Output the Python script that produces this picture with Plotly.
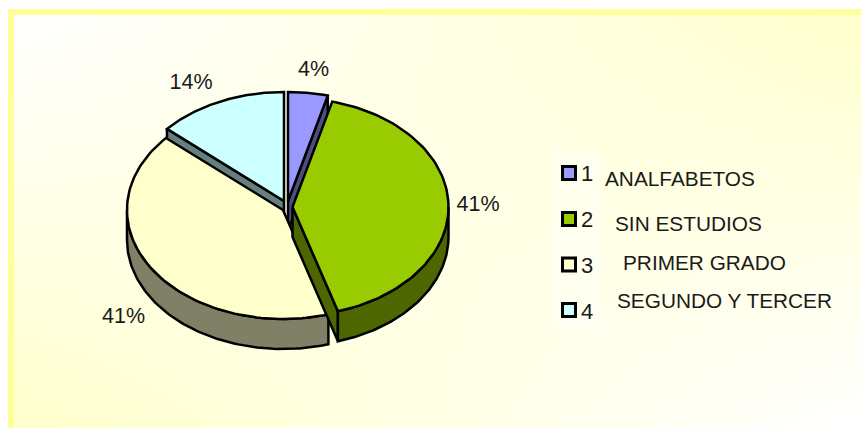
import numpy as np
import plotly.graph_objects as go

# ---- data ----
legend_numbers = ["1", "2", "3", "4"]
categories = ["ANALFABETOS", "SIN ESTUDIOS", "PRIMER GRADO", "SEGUNDO Y TERCER"]
values = [4.1, 41.2, 41.2, 13.5]

# ---- styles and layout ----
top_colors = ["#9999FF", "#99CC00", "#FFFFCC", "#CCFFFF"]
side_colors = ["#4D4D80", "#4D6600", "#808066", "#668080"]
apex_x = [288, 292.5, 283, 284]
apex_y = [201, 207, 210, 201]
RX, RY, DEPTH = 156, 109, 30
label_x = [313.5, 478, 123.5, 191]
label_y = [71, 206, 318, 84]
swatch_y = [173, 219, 264.5, 310]
number_y = [175, 221, 267, 313]
cat_x = [605, 615, 623, 617]
cat_y = [181, 226, 265, 303]
W, H = 861, 428
FONT = "Liberation Sans, Arial, sans-serif"
TEXT = "#1a1a1a"
LW = 2.5

edges = np.concatenate([[0], np.cumsum(values)]) / sum(values) * 2 * np.pi


def rim(i, a, b, dy=0.0, n=90):
    t = np.linspace(a, b, n)
    return apex_x[i] + RX * np.sin(t), apex_y[i] - RY * np.cos(t) + dy


def poly(xs, ys, color, lw=LW):
    return go.Scatter(x=list(xs) + [xs[0]], y=list(ys) + [ys[0]], mode="lines", fill="toself",
                      fillcolor=color, line=dict(color="black", width=lw), xaxis="x2", yaxis="y2",
                      hoverinfo="skip", showlegend=False)


def cut_face(i, angle):
    x, y = rim(i, angle, angle, n=1)
    ax, ay = apex_x[i], apex_y[i]
    return poly([ax, x[0], x[0], ax], [ay, y[0], y[0] + DEPTH, ay + DEPTH], side_colors[i])


def wall(i):
    a, b = max(edges[i], np.pi / 2), min(edges[i + 1], 3 * np.pi / 2)
    x1, y1 = rim(i, a, b)
    x2, y2 = rim(i, b, a, DEPTH)
    return poly(np.r_[x1, x2], np.r_[y1, y2], side_colors[i])


def top(i):
    x, y = rim(i, edges[i], edges[i + 1])
    return poly(np.r_[apex_x[i], x], np.r_[apex_y[i], y], top_colors[i])


fig = go.Figure()

# pale background: yellow toward the top-right and bottom-left corners
grid = np.linspace(0, 1, 21)
gx, gy = np.meshgrid(grid, grid)
fig.add_trace(go.Heatmap(x=grid, y=grid, z=gx * gy + (1 - gx) * (1 - gy), zmin=0, zmax=1, zsmooth="best",
                         colorscale=[[0, "#FFFFFF"], [1, "#FFFFCC"]], showscale=False, hoverinfo="skip"))

# whitish legend backing
fig.add_trace(go.Scatter(x=[553, 602, 602, 553, 553], y=[152, 152, 330, 330, 152], mode="lines", fill="toself",
                         fillcolor="rgba(255,255,255,0.35)", line=dict(width=0), xaxis="x2", yaxis="y2",
                         hoverinfo="skip", showlegend=False))

# pie, back to front
fig.add_trace(cut_face(0, edges[1]))
fig.add_trace(cut_face(3, edges[3]))
fig.add_trace(top(0))
fig.add_trace(top(3))
fig.add_trace(wall(2))
fig.add_trace(top(2))
fig.add_trace(cut_face(1, edges[2]))
fig.add_trace(wall(1))
fig.add_trace(top(1))

# percent labels
fig.add_trace(go.Scatter(x=label_x, y=label_y, mode="text", text=[f"{round(v)}%" for v in values],
                         textfont=dict(family=FONT, size=21.5, color=TEXT), xaxis="x2", yaxis="y2",
                         hoverinfo="skip", showlegend=False))
# legend
fig.add_trace(go.Scatter(x=[569] * 4, y=swatch_y, mode="markers",
                         marker=dict(symbol="square", size=13, color=top_colors, line=dict(color="black", width=3)),
                         xaxis="x2", yaxis="y2", hoverinfo="skip", showlegend=False))
fig.add_trace(go.Scatter(x=[587] * 4, y=number_y, mode="text", text=legend_numbers,
                         textfont=dict(family=FONT, size=22, color=TEXT), xaxis="x2", yaxis="y2",
                         hoverinfo="skip", showlegend=False))
fig.add_trace(go.Scatter(x=cat_x, y=cat_y, mode="text", text=categories, textposition="middle right",
                         textfont=dict(family=FONT, size=20.8, color=TEXT), xaxis="x2", yaxis="y2",
                         hoverinfo="skip", showlegend=False))

hidden = dict(visible=False, fixedrange=True)
fig.update_layout(
    width=W, height=H, margin=dict(l=0, r=0, t=0, b=0),
    paper_bgcolor="white", plot_bgcolor="rgba(0,0,0,0)",
    xaxis=dict(hidden, domain=[14 / W, 1], range=[0, 1]),
    yaxis=dict(hidden, domain=[0, 1 - 15 / H], range=[0, 1]),
    xaxis2=dict(hidden, domain=[0, 1], range=[0, W], anchor="y2"),
    yaxis2=dict(hidden, domain=[0, 1], range=[H, 0], anchor="x2"),
    shapes=[
        dict(type="rect", xref="paper", yref="paper", x0=8 / W, x1=14 / W, y0=0, y1=1 - 9 / H,
             fillcolor="#FFFF99", line_width=0, layer="below"),
        dict(type="rect", xref="paper", yref="paper", x0=8 / W, x1=1, y0=1 - 15 / H, y1=1 - 9 / H,
             fillcolor="#FFFF99", line_width=0, layer="below"),
    ],
)
fig.write_html("out.html", config={"displayModeBar": False},
               post_script="document.body.style.margin='0';")
